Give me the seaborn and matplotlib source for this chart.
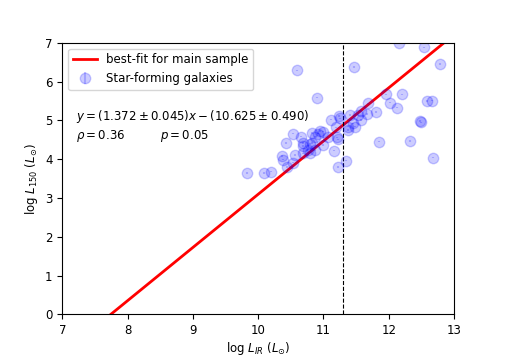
import numpy as np
import pandas as pd
import matplotlib
matplotlib.use("Agg")
import matplotlib.pyplot as plt
import seaborn as sns

# Data
log_lir = [10.60, 11.47, 10.90, 12.16, 12.54, 12.79, 12.21, 11.96, 12.02, 12.12,
           12.59, 12.66, 11.69, 11.80, 11.57, 11.53, 11.66, 12.48, 12.49, 11.58,
           11.46, 11.48, 11.38, 11.38, 11.41, 11.24, 11.25, 11.12, 11.19, 11.21,
           11.23, 11.85, 12.32, 12.68, 11.34, 11.23, 11.16, 11.00, 10.94, 10.91,
           10.83, 10.87, 10.82, 10.79, 10.77, 10.69, 10.68, 10.65, 10.54, 10.43,
           10.56, 10.36, 10.38, 10.54, 10.44, 11.00, 11.07, 10.87, 10.80, 10.69,
           9.83, 10.09, 10.19]
log_l150 = [6.29, 6.38, 5.59, 7.00, 6.88, 6.45, 5.67, 5.67, 5.46, 5.33,
            5.50, 5.51, 5.44, 5.21, 5.25, 5.14, 5.16, 4.98, 4.95, 5.01,
            4.92, 4.84, 4.84, 4.75, 5.14, 5.11, 5.05, 5.02, 4.82, 4.56,
            4.51, 4.45, 4.47, 4.04, 3.96, 3.80, 4.22, 4.71, 4.72, 4.66,
            4.68, 4.58, 4.42, 4.39, 4.23, 4.41, 4.34, 4.58, 4.66, 4.41,
            4.11, 4.08, 3.99, 3.91, 3.80, 4.36, 4.56, 4.23, 4.17, 4.15,
            3.65, 3.65, 3.68]
l150_err = 0.02

slope, slope_err = 1.372, 0.045
intercept, intercept_err = -10.625, 0.490
rho, pval = 0.36, 0.05
lir_cut = 11.3
fit_x = [7.0, 13.0]

fig = plt.figure(figsize=(5.05, 3.6), dpi=100)
ax = fig.add_axes([0.1234, 0.127, 0.7756, 0.754])

fit_df = pd.DataFrame({"x": fit_x, "y": [slope * v + intercept for v in fit_x]})
sns.lineplot(data=fit_df, x="x", y="y", color="red", linewidth=2,
             label="best-fit for main sample", ax=ax)

ax.errorbar(log_lir, log_l150, yerr=l150_err, fmt="o", color="blue",
            alpha=0.2, markersize=7.5, label="Star-forming galaxies")

ax.axvline(lir_cut, color="black", linestyle="--", linewidth=0.8)

ax.text(7.21, 5.0,
        r"$y=(%.3f\pm%.3f)x-(%.3f\pm%.3f)$" % (slope, slope_err, -intercept, intercept_err),
        fontsize=8.5)
ax.text(7.21, 4.53, r"$\rho=%.2f$" % rho, fontsize=8.5)
ax.text(8.5, 4.53, r"$p=%.2f$" % pval, fontsize=8.5)

ax.set_xlim(7, 13)
ax.set_ylim(0, 7)
ax.set_xlabel(r"log $L_{IR}$ ($L_{\odot}$)", fontsize=8.5, labelpad=2)
ax.set_ylabel(r"log $L_{150}$ ($L_{\odot}$)", fontsize=8.5)
ax.tick_params(labelsize=8.5)
ax.legend(loc="upper left", fontsize=8.5)

fig.savefig("out.png", dpi=100)
